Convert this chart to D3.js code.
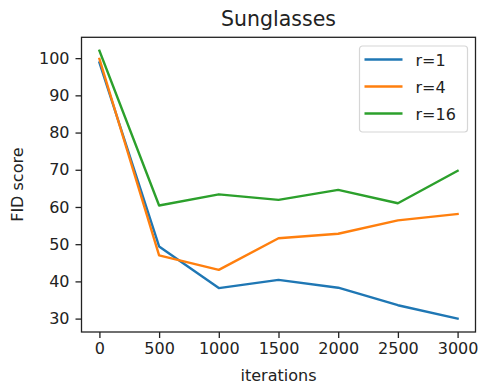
<!DOCTYPE html>
<html>
<head>
<meta charset="utf-8">
<script src="https://cdn.jsdelivr.net/npm/d3@7"></script>
<style>
  html, body { margin: 0; padding: 0; background: #fff; }
  svg { display: block; font-family: "DejaVu Sans", sans-serif; }
</style>
</head>
<body>
<div id="chart"></div>
<script>
const iterations = [0, 500, 1000, 1500, 2000, 2500, 3000];
const seriesNames = ['r=1', 'r=4', 'r=16'];
const r1 = [98.8, 49.4, 38.2, 40.4, 38.3, 33.6, 30.0];
const r4 = [99.8, 47.0, 43.1, 51.6, 52.8, 56.4, 58.1];
const r16 = [102.0, 60.4, 63.4, 61.9, 64.6, 61.0, 69.7];
const xTicks = [0, 500, 1000, 1500, 2000, 2500, 3000];
const yTicks = [30, 40, 50, 60, 70, 80, 90, 100];
const colors = ['#1f77b4', '#ff7f0e', '#2ca02c'];

const width = 480, height = 385;
const margin = { top: 37.3, right: 4.5, bottom: 53, left: 81.5 };

const series = seriesNames.map((name, i) => ({
  name: name,
  color: colors[i],
  values: [r1, r4, r16][i].map((v, j) => ({ x: iterations[j], y: v }))
}));

// matplotlib style 5% margins
const allY = [].concat(r1, r4, r16);
const yMin = d3.min(allY), yMax = d3.max(allY);
const yPad = (yMax - yMin) * 0.05;
const xPad = (d3.max(iterations) - d3.min(iterations)) * 0.05;

const x = d3.scaleLinear()
  .domain([d3.min(iterations) - xPad, d3.max(iterations) + xPad])
  .range([margin.left, width - margin.right]);

const y = d3.scaleLinear()
  .domain([yMin - yPad, yMax + yPad])
  .range([height - margin.bottom, margin.top]);

const svg = d3.select('#chart')
  .append('svg')
  .attr('width', width)
  .attr('height', height);

const line = d3.line()
  .x(d => x(d.x))
  .y(d => y(d.y));

const clip = svg.append('clipPath').attr('id', 'clip')
  .append('rect')
  .attr('x', margin.left).attr('y', margin.top)
  .attr('width', width - margin.left - margin.right)
  .attr('height', height - margin.top - margin.bottom);

svg.append('g')
  .attr('clip-path', 'url(#clip)')
  .selectAll('path')
  .data(series)
  .join('path')
  .attr('fill', 'none')
  .attr('stroke', d => d.color)
  .attr('stroke-width', 2.4)
  .attr('stroke-linejoin', 'round')
  .attr('stroke-linecap', 'square')
  .attr('d', d => line(d.values));

// axes
const xAxis = d3.axisBottom(x).tickValues(xTicks).tickSize(6).tickPadding(5).tickFormat(d3.format('d'));
const yAxis = d3.axisLeft(y).tickValues(yTicks).tickSize(6).tickPadding(6).tickFormat(d3.format('d'));

svg.append('g')
  .attr('transform', `translate(0,${height - margin.bottom})`)
  .call(xAxis)
  .call(g => g.select('.domain').remove())
  .call(g => g.selectAll('.tick line').attr('stroke', '#222').attr('stroke-width', 1.3))
  .call(g => g.selectAll('.tick text').attr('font-size', 16).attr('fill', '#222')
    .attr('font-family', '"DejaVu Sans", sans-serif'));

svg.append('g')
  .attr('transform', `translate(${margin.left},0)`)
  .call(yAxis)
  .call(g => g.select('.domain').remove())
  .call(g => g.selectAll('.tick line').attr('stroke', '#222').attr('stroke-width', 1.3))
  .call(g => g.selectAll('.tick text').attr('font-size', 16).attr('fill', '#222')
    .attr('font-family', '"DejaVu Sans", sans-serif'));

// frame
svg.append('rect')
  .attr('x', margin.left)
  .attr('y', margin.top)
  .attr('width', width - margin.left - margin.right)
  .attr('height', height - margin.top - margin.bottom)
  .attr('fill', 'none')
  .attr('stroke', '#222')
  .attr('stroke-width', 1.3);

// title and labels
svg.append('text')
  .attr('x', (margin.left + width - margin.right) / 2)
  .attr('y', 26)
  .attr('text-anchor', 'middle')
  .attr('font-size', 20.5)
  .attr('fill', '#222')
  .text('Sunglasses');

svg.append('text')
  .attr('x', (margin.left + width - margin.right) / 2)
  .attr('y', 381)
  .attr('text-anchor', 'middle')
  .attr('font-size', 16)
  .attr('fill', '#222')
  .text('iterations');

svg.append('text')
  .attr('transform', `translate(23,${(margin.top + height - margin.bottom) / 2}) rotate(-90)`)
  .attr('text-anchor', 'middle')
  .attr('font-size', 16)
  .attr('fill', '#222')
  .text('FID score');

// legend
const legend = svg.append('g').attr('transform', 'translate(359.5,46)');
legend.append('rect')
  .attr('width', 108)
  .attr('height', 86)
  .attr('rx', 3)
  .attr('fill', 'rgba(255,255,255,0.8)')
  .attr('stroke', '#d6d6d6')
  .attr('stroke-width', 1.2);

const item = legend.selectAll('g.item')
  .data(series)
  .join('g')
  .attr('class', 'item')
  .attr('transform', (d, i) => `translate(0,${13.5 + i * 27})`);

item.append('line')
  .attr('x1', 5).attr('x2', 43)
  .attr('stroke', d => d.color)
  .attr('stroke-width', 2.4);

item.append('text')
  .attr('x', 56)
  .attr('y', 6)
  .attr('font-size', 16)
  .attr('fill', '#222')
  .text(d => d.name);
</script>
</body>
</html>
